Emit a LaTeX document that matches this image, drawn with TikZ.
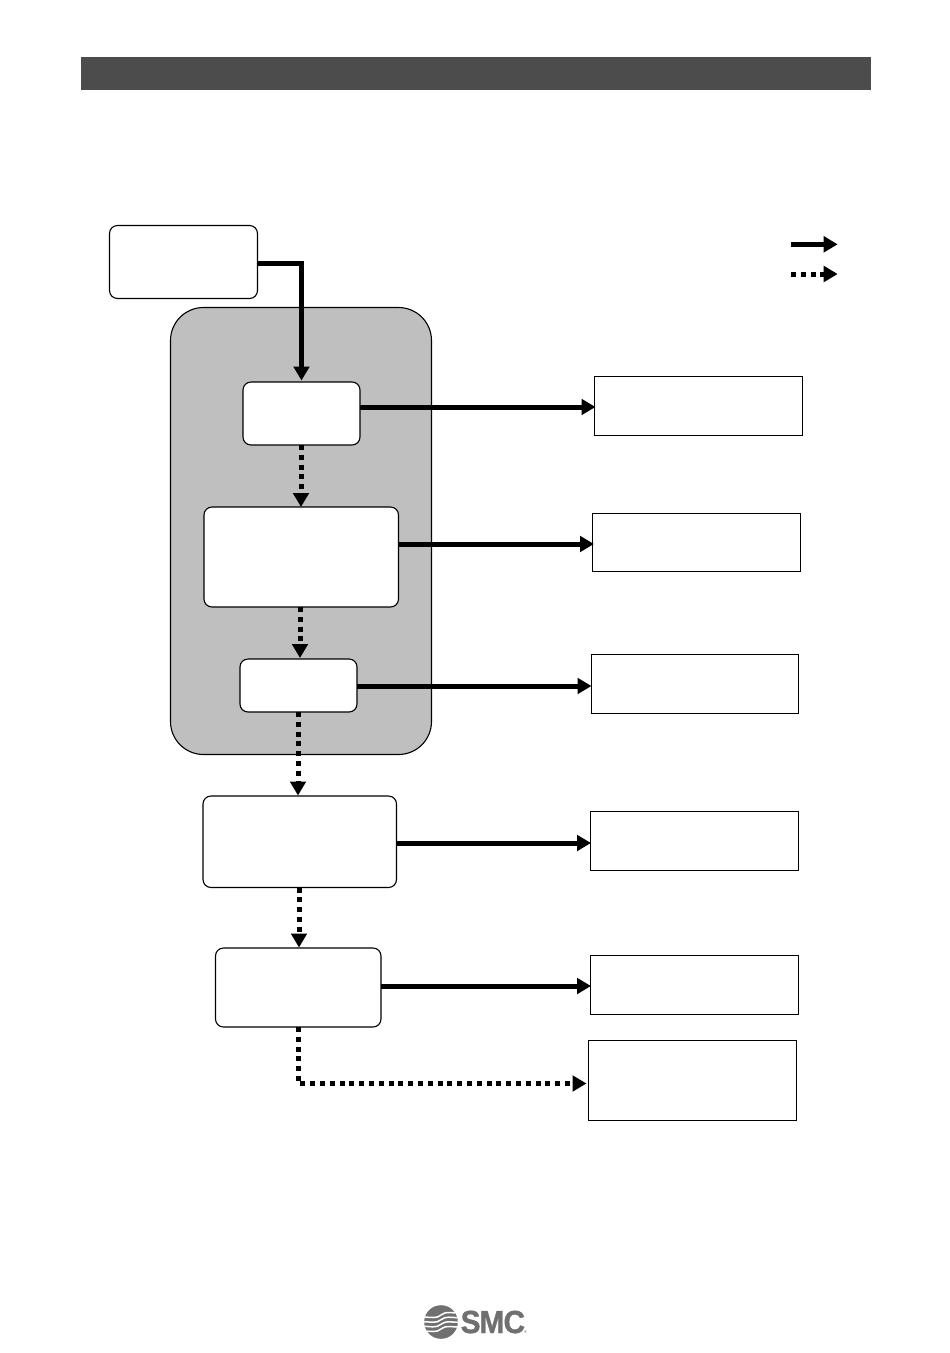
\documentclass[tikz,border=0pt]{standalone}
\usepackage{fontspec}
\setmainfont{Liberation Sans}
\usetikzlibrary{arrows.meta,calc}
\tikzset{
  x=1pt,y=-1pt,
  rbox/.style={draw=black,line width=1.1pt,fill=white,rounded corners=8pt,anchor=north west,inner sep=0pt,outer sep=0pt},
  sbox/.style={draw=black,line width=.8pt,fill=white,anchor=north west,inner sep=0pt,outer sep=0pt},
  panel/.style={draw=black,line width=1.1pt,fill=black!25,rounded corners=33pt,anchor=north west,inner sep=0pt,outer sep=0pt},
  solidarrow/.style={line width=5pt,-{Triangle[length=14pt,width=15.5pt]},line join=miter},
  dotarrow/.style={line width=5pt,dash pattern=on 5pt off 4.8pt,-{Triangle[length=14pt,width=15.5pt]},line join=miter},
  wave/.style={draw=white,line width=1.5pt},
}
\definecolor{logogray}{HTML}{707070}
\begin{document}
\begin{tikzpicture}
\useasboundingbox (0,0) rectangle (950,1353);
% header bar
\node[anchor=north west,fill=black!70,minimum width=789.5pt,minimum height=32.5pt,inner sep=0pt,outer sep=0pt] (bar) at (81,57) {};
% grey panel
\node[panel,minimum width=261pt,minimum height=447pt] (panel) at (170.5,307.5) {};
% rounded boxes
\node[rbox,minimum width=148pt,minimum height=73pt] (A) at (109.5,225.5) {};
\node[rbox,minimum width=117pt,minimum height=63pt] (B) at (243,382) {};
\node[rbox,minimum width=194.5pt,minimum height=100pt] (C) at (204,507) {};
\node[rbox,minimum width=117pt,minimum height=53pt] (D) at (240,659) {};
\node[rbox,minimum width=193.5pt,minimum height=91.5pt] (E) at (203,796) {};
\node[rbox,minimum width=165.5pt,minimum height=79pt] (F) at (215.5,948) {};
% right-hand boxes
\node[sbox,minimum width=208pt,minimum height=59pt] (R1) at (594.5,376.5) {};
\node[sbox,minimum width=208pt,minimum height=58pt] (R2) at (592.5,513.5) {};
\node[sbox,minimum width=207pt,minimum height=59pt] (R3) at (591.5,654.5) {};
\node[sbox,minimum width=208pt,minimum height=59pt] (R4) at (590.5,811.5) {};
\node[sbox,minimum width=208pt,minimum height=59pt] (R5) at (590.5,955.5) {};
\node[sbox,minimum width=208pt,minimum height=80pt] (R6) at (588.5,1040.5) {};
% connectors
\draw[solidarrow,shorten >=1.5pt] ([yshift=-1.75pt]A.east) -| (B.north);
\draw[dotarrow] (B.south -| 301,0) -- (C.north -| 301,0);
\draw[dotarrow,shorten >=1pt] (C.south -| 300,0) -- (D.north -| 300,0);
\draw[dotarrow,shorten >=.5pt] (D.south -| 298,0) -- (E.north -| 298,0);
\draw[dotarrow,shorten >=.5pt] (E.south -| 299,0) -- (F.north -| 299,0);
\draw[solidarrow,shorten >=-1pt] ([yshift=-1pt]B.east |- R1.west) -- ([yshift=-1pt]R1.west);
\draw[solidarrow,shorten >=-1.5pt] ([yshift=-1.5pt]C.east |- R2.west) -- ([yshift=-1.5pt]R2.west);
\draw[solidarrow,shorten >=0pt] ([yshift=-2pt]D.east |- R3.west) -- ([yshift=-2pt]R3.west);
\draw[solidarrow,shorten >=-.5pt] ([yshift=-2pt]E.east |- R4.west) -- ([yshift=-2pt]R4.west);
\draw[solidarrow,shorten >=-.5pt] ([yshift=-1pt]F.east |- R5.west) -- ([yshift=-1pt]R5.west);
\draw[dotarrow,shorten >=2pt] (F.south -| 298,0) |- ([yshift=-3pt]R6.west);
% legend
\coordinate (L1a) at (791,244.3); \coordinate (L1b) at (837.7,244.3);
\coordinate (L2a) at (791,274); \coordinate (L2b) at (837.7,274);
\draw[solidarrow] (L1a) -- (L1b);
\draw[dotarrow] (L2a) -- (L2b);
% logo
\fill[logogray] (441,1322) circle (16.8);
\begin{scope}
\clip (441,1322) circle (16.8);
\foreach \d in {-7,-2.3,2.3,7}{
  \draw[wave] (422,1324+\d) .. controls (432,1324+\d) and (436,1326+\d) .. (441,1322+\d) .. controls (446,1318+\d) and (450,1320+\d) .. (460,1320+\d);
}
\end{scope}
\node[text=logogray,inner sep=0pt,anchor=west,xscale=.93] (logo) at (460.5,1322) {\fontspec{Liberation Sans Bold}[FakeBold=1.2,LetterSpace=-3]\fontsize{32}{33}\selectfont SMC};
\node[text=logogray,inner sep=0pt] (reg) at (525.5,1332.5) {\fontsize{4}{4}\selectfont ®};
\end{tikzpicture}
\end{document}
